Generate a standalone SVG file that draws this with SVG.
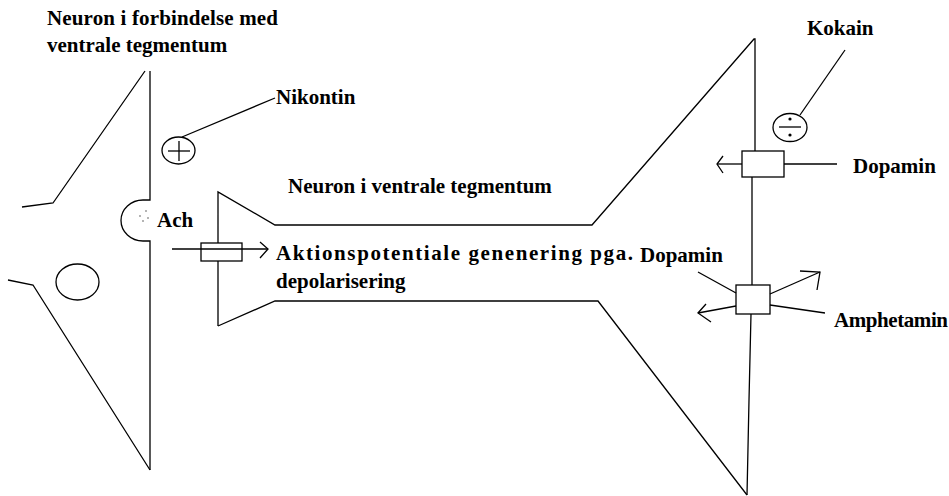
<svg xmlns="http://www.w3.org/2000/svg" width="949" height="496" viewBox="0 0 949 496">
  <style>
    .ln { fill: none; stroke: #000; stroke-width: 1.3; stroke-linejoin: miter; }
    .bx { fill: #fff; stroke: #000; stroke-width: 1.3; }
    .t  { font-family: "Liberation Serif", "Times New Roman", serif; font-weight: bold; font-size: 21px; fill: #000; }
  </style>
  <rect width="949" height="496" fill="#fff"/>

  <!-- Neuron connected to the ventral tegmentum (left cell) -->
  <g id="neuron-left">
    <path class="ln" d="M150,71 V200 H143 A22 20.5 0 0 0 143,241 H150 V470"/>
    <polyline class="ln" points="145,71 53,203 22,207"/>
    <polyline class="ln" points="8,280 33,285 150,470"/>
    <ellipse class="ln" cx="77.5" cy="282" rx="21.5" ry="18"/>
    <text class="t" x="47" y="25" textLength="231">Neuron i forbindelse med</text>
    <text class="t" x="47" y="52">ventrale tegmentum</text>
  </g>

  <!-- Acetylcholine released in the cleft -->
  <g id="ach">
    <circle cx="140" cy="216" r="0.8" fill="#555"/>
    <circle cx="146" cy="211" r="0.8" fill="#555"/>
    <circle cx="148" cy="218" r="0.8" fill="#555"/>
    <circle cx="143" cy="221" r="0.8" fill="#555"/>
    <text class="t" x="157" y="227">Ach</text>
  </g>

  <!-- Nicotine (agonist) -->
  <g id="nikotin">
    <ellipse class="ln" cx="178.5" cy="150.5" rx="16.5" ry="13.5"/>
    <line class="ln" x1="168" y1="151" x2="190" y2="151"/>
    <line class="ln" x1="179" y1="141" x2="179" y2="161"/>
    <text class="t" x="276" y="104">Nikontin</text>
  </g>

  <!-- Neuron in the ventral tegmentum (middle cell) -->
  <g id="neuron-vta">
    <polyline class="ln" points="218,326 218,192 275,225 592,225 754,39 755,39 755,151"/>
    <polyline class="ln" points="218,326 275,301 598,301 747,495"/>
    <line class="ln" x1="752" y1="177" x2="752" y2="285"/>
    <polyline class="ln" points="751,314 749,400 747,495"/>
    <text class="t" x="288" y="193">Neuron i ventrale tegmentum</text>
    <text class="t" x="276" y="260" textLength="357">Aktionspotentiale genenering pga.</text>
    <text class="t" x="276" y="288">depolarisering</text>
  </g>

  <!-- Nicotinic receptor on the membrane -->
  <g id="receptor">
    <rect class="bx" x="201" y="243" width="41" height="18"/>
  </g>

  <!-- Dopamine reuptake transporter with cocaine -->
  <g id="transporter">
    <rect class="bx" x="742" y="151" width="42" height="26"/>
    <text class="t" x="853" y="173">Dopamin</text>
  </g>
  <g id="kokain">
    <ellipse class="ln" cx="790" cy="127.5" rx="17" ry="14"/>
    <line class="ln" x1="779" y1="127" x2="801" y2="127"/>
    <circle cx="790" cy="119" r="1.6" fill="#000"/>
    <circle cx="790" cy="135" r="1.6" fill="#000"/>
    <text class="t" x="807" y="35">Kokain</text>
  </g>

  <!-- Transporter reversed by amphetamine -->
  <g id="amphetamin">
    <rect class="bx" x="736" y="285" width="34" height="29"/>
    <text class="t" x="640" y="262">Dopamin</text>
    <text class="t" x="834" y="327" textLength="114">Amphetamin</text>
  </g>

  <!-- Connectors and arrows -->
  <g id="connectors">
    <!-- signal across the receptor -->
    <line class="ln" x1="172" y1="249" x2="268" y2="249"/>
    <polyline class="ln" points="260,242 268,249 260,258"/>
    <!-- nicotine pointer -->
    <line class="ln" x1="182" y1="137" x2="275" y2="98"/>
    <!-- cocaine pointer -->
    <line class="ln" x1="845" y1="50" x2="800" y2="115"/>
    <!-- dopamine reuptake -->
    <line class="ln" x1="784" y1="164" x2="837" y2="164"/>
    <line class="ln" x1="742" y1="164" x2="717" y2="164"/>
    <polyline class="ln" points="723,156 717,164 723,173"/>
    <!-- amphetamine transporter -->
    <line class="ln" x1="698" y1="272" x2="736" y2="293"/>
    <line class="ln" x1="770" y1="305" x2="825" y2="313"/>
    <line class="ln" x1="736" y1="306" x2="698" y2="313"/>
    <polyline class="ln" points="706,304 698,313 711,322"/>
    <line class="ln" x1="770" y1="294" x2="820" y2="272"/>
    <polyline class="ln" points="800,271 820,272 817,290"/>
  </g>
</svg>
